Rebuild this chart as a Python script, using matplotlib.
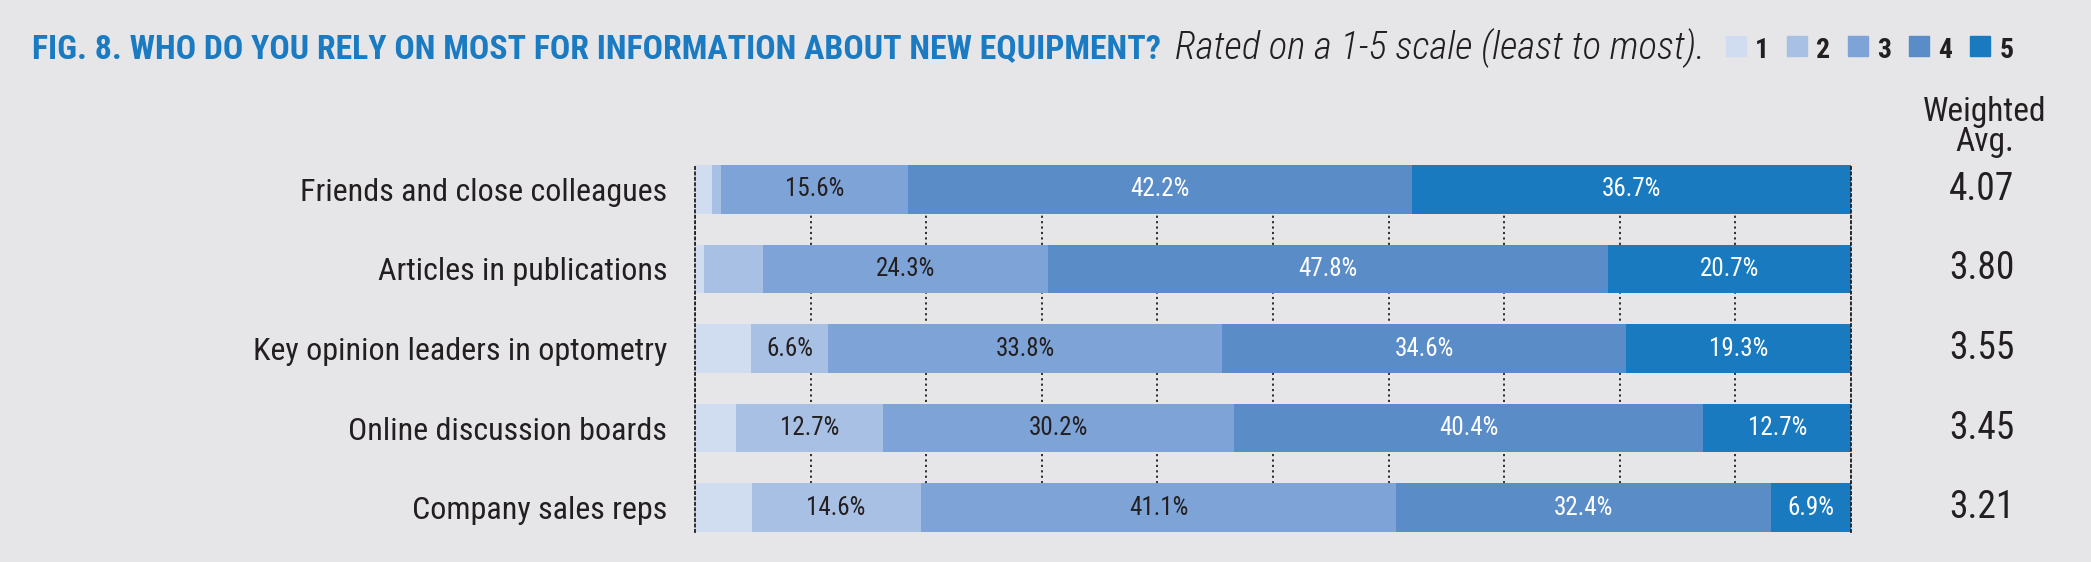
import matplotlib
matplotlib.use("Agg")
import matplotlib.pyplot as plt
import numpy as np
from matplotlib import font_manager
from matplotlib.patches import Rectangle

# data
sources = ["Friends and close colleagues", "Articles in publications",
           "Key opinion leaders in optometry", "Online discussion boards",
           "Company sales reps"]
rate1 = [1.4, 0.8, 4.8, 3.5, 4.9]
rate2 = [0.8, 5.0, 6.6, 12.7, 14.6]
rate3 = [15.6, 24.3, 33.8, 30.2, 41.1]
rate4 = [42.2, 47.8, 34.6, 40.4, 32.4]
rate5 = [36.7, 20.7, 19.3, 12.7, 6.9]
weighted = ["4.07", "3.80", "3.55", "3.45", "3.21"]
ratings = ["1", "2", "3", "4", "5"]

bg = "#E6E6E8"
dark = "#231F20"
blue = "#1A7BC2"
colors = ["#D0DCEF", "#A8C0E4", "#7EA3D6", "#5A8CC8", "#1A7ABF"]

# pick a narrow font if one is there
names = {f.name for f in font_manager.fontManager.ttflist}
narrow = next((n for n in ["Roboto Condensed", "Liberation Sans Narrow",
                           "Open Sans Condensed"] if n in names), "DejaVu Sans")
plt.rcParams["font.family"] = [narrow, "DejaVu Sans"]
plt.rcParams["font.stretch"] = "condensed"

W, H = 2091, 562
fig = plt.figure(figsize=(W / 100, H / 100), dpi=100, facecolor=bg)
renderer = fig.canvas.get_renderer()


def fit(t, target):
    w = t.get_window_extent(renderer).width
    t.set_fontsize(t.get_fontsize() * target / w)


ax = fig.add_axes([695 / W, 30 / H, 1156 / W, 367 / H])
ax.set_facecolor(bg)

data = np.array([rate1, rate2, rate3, rate4, rate5]).T
widths = data / data.sum(axis=1, keepdims=True) * 100
lefts = np.cumsum(widths, axis=1) - widths
y = np.arange(len(sources))

for k in range(5):
    ax.barh(y, widths[:, k], left=lefts[:, k], height=0.61,
            color=colors[k], zorder=2)
    for i in range(len(sources)):
        if data[i, k] >= 6:
            ax.text(lefts[i, k] + widths[i, k] / 2, i, f"{data[i, k]:.1f}%",
                    ha="center", va="center", fontsize=18, zorder=4,
                    color=dark if k < 3 else "white")

ax.set_xlim(0, 100)
ax.set_ylim(len(sources) - 1 + 0.305, -0.305)
ax.set_xticks(np.arange(0, 101, 10))
ax.tick_params(axis="x", length=0, labelbottom=False)
ax.grid(axis="x", color=dark, linestyle=(0, (1.2, 1.8)), linewidth=1.3)
ax.set_axisbelow(True)
for side in ["top", "bottom"]:
    ax.spines[side].set_visible(False)
for side in ["left", "right"]:
    ax.spines[side].set_linestyle((0, (1.2, 1.8)))
    ax.spines[side].set_color(dark)
    ax.spines[side].set_linewidth(1.3)
    ax.spines[side].set_zorder(5)

ax.set_yticks(y, sources)
ax.tick_params(axis="y", length=0, pad=20, labelsize=20, labelcolor=dark)
fig.canvas.draw()
widest = max(t.get_window_extent(renderer).width for t in ax.get_yticklabels())
ax.tick_params(axis="y", labelsize=20 * 412 / widest)

# weighted average column
fig.text(1985 / W, 1 - 127 / H, "Weighted\nAvg.", ha="center", va="center",
         fontsize=24, color=dark, linespacing=0.9)
for i, v in enumerate(weighted):
    ax.text(1.113, i, v, transform=ax.get_yaxis_transform(), ha="center",
            va="center", fontsize=27, color=dark)

# title, subtitle and legend on one line
base = 1 - 58 / H
title = fig.text(32 / W, base, "FIG. 8. WHO DO YOU RELY ON MOST FOR INFORMATION ABOUT NEW EQUIPMENT?",
                 fontsize=28, fontweight="bold", color=blue, va="baseline")
fit(title, 1133)
x = title.get_window_extent(renderer).x1 + 14
sub = fig.text(x / W, base, "Rated on a 1-5 scale (least to most).",
               fontsize=24, style="italic", fontweight="light", color=dark,
               va="baseline")
fit(sub, 531)
x = sub.get_window_extent(renderer).x1 + 21
for c, r in zip(colors, ratings):
    fig.add_artist(Rectangle((x / W, 1 - 56 / H), 20 / W, 20 / H,
                             transform=fig.transFigure, color=c))
    t = fig.text((x + 29) / W, base, r, fontsize=20, fontweight="bold",
                 color=dark, va="baseline")
    x = t.get_window_extent(renderer).x1 + 18

fig.savefig("out.png", dpi=100, facecolor=bg)
